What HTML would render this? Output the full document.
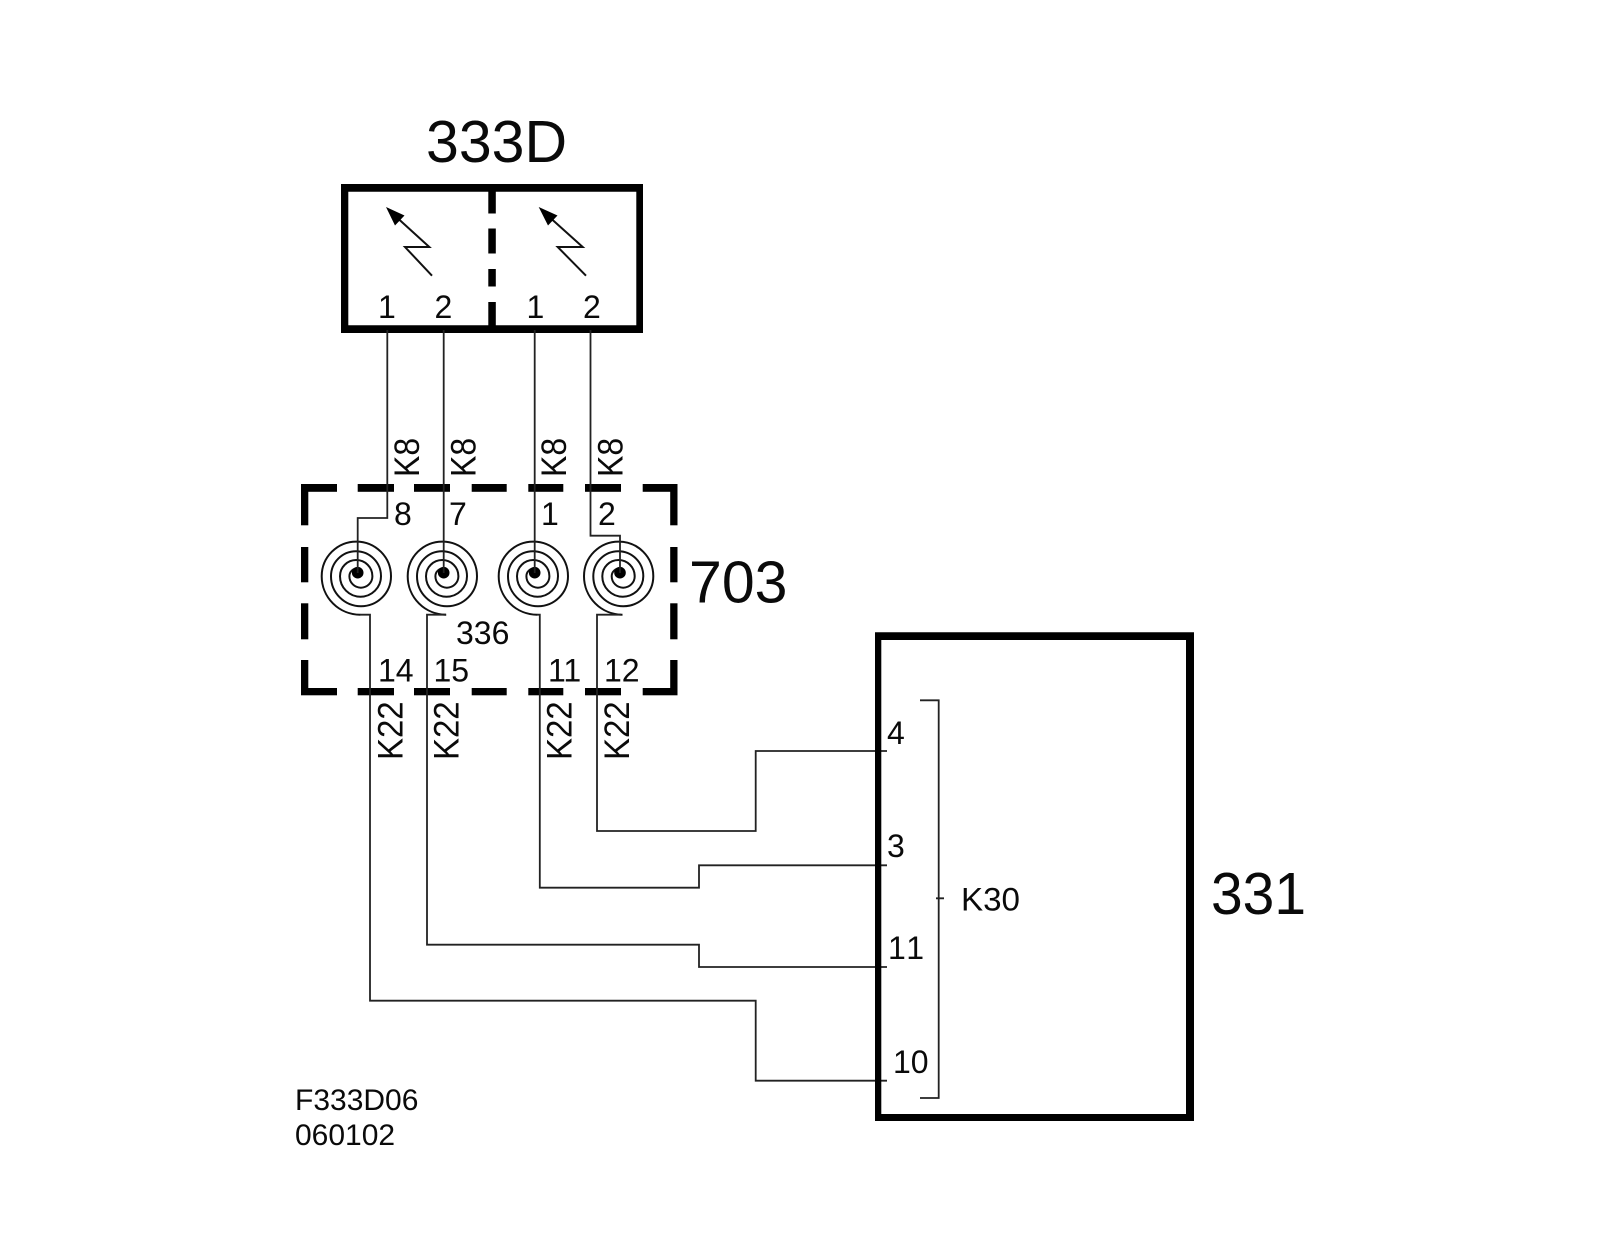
<!DOCTYPE html>
<html>
<head>
<meta charset="utf-8">
<style>
html,body{margin:0;padding:0;background:#fff;width:1600px;height:1235px;overflow:hidden}
svg{display:block}
text{font-family:"Liberation Sans",Arial,sans-serif;fill:#0a0a0a}
.s{font-size:32px}
.l{font-size:59px}
.f{font-size:30px}
.w{fill:none;stroke:#222;stroke-width:1.8}
.t{fill:none;stroke:#111;stroke-width:2}
</style>
</head>
<body>
<svg width="1600" height="1235" viewBox="0 0 1600 1235" xmlns="http://www.w3.org/2000/svg">
<rect width="1600" height="1235" fill="#fff"/>
<defs>
<g id="sp">
<path fill="none" stroke="#111" stroke-width="2" d="M0,-4.5 A8.3 8 0 0 0 -8.3,3.5 A11.5 11.5 0 0 0 14.7,3.5 A16.2 16.2 0 0 0 -17.7,3.5 A20.5 20.5 0 0 0 23.3,3.5 A25 25 0 0 0 -26.7,3.5 A30 30 0 0 0 33.3,3.5 A34.65 34.65 0 0 0 -36,3.5 A38.5 38.5 0 0 0 2.5,42"/>
<circle cx="0" cy="0" r="5.8" fill="#000"/>
</g>
</defs>

<!-- 333D box -->
<path fill="#000" fill-rule="evenodd" d="M341,184 H643 V333 H341 Z M348.3,191.7 V325.3 H636.3 V191.7 Z"/>
<g fill="#000">
<rect x="488.3" y="188" width="7.5" height="25.5"/>
<rect x="488.3" y="228.5" width="7.5" height="25"/>
<rect x="488.3" y="269" width="7.5" height="17.5"/>
<rect x="488.3" y="302" width="7.5" height="28"/>
</g>
<path class="t" d="M398,218.5 L429.3,247 L405,247 L432,275.7"/>
<path d="M386,207 L404.5,215.5 L395,225.5 Z" fill="#000"/>
<path class="t" d="M551,218.5 L582.7,247 L557.7,247 L586,275.7"/>
<path d="M538.7,207 L557.5,215.5 L548,225.5 Z" fill="#000"/>

<!-- 703 dashed box -->
<g fill="#000">
<rect x="301" y="484" width="36" height="7.8"/><rect x="357.7" y="484" width="36.3" height="7.8"/>
<rect x="414" y="484" width="36" height="7.8"/><rect x="471.7" y="484" width="35" height="7.8"/>
<rect x="528.3" y="484" width="35" height="7.8"/><rect x="585" y="484" width="36" height="7.8"/>
<rect x="642.7" y="484" width="34.8" height="7.8"/>
<rect x="301" y="688" width="36" height="7.3"/><rect x="357.7" y="688" width="36.3" height="7.3"/>
<rect x="414" y="688" width="36" height="7.3"/><rect x="471.7" y="688" width="35" height="7.3"/>
<rect x="528.3" y="688" width="35" height="7.3"/><rect x="585" y="688" width="36" height="7.3"/>
<rect x="642.7" y="688" width="34.8" height="7.3"/>
<rect x="301" y="484" width="7.3" height="41.3"/><rect x="301" y="547" width="7.3" height="35.3"/>
<rect x="301" y="603.3" width="7.3" height="36"/><rect x="301" y="660" width="7.3" height="35"/>
<rect x="670.2" y="484" width="7.3" height="41.3"/><rect x="670.2" y="547" width="7.3" height="35.3"/>
<rect x="670.2" y="603.3" width="7.3" height="36"/><rect x="670.2" y="660" width="7.3" height="35"/>
</g>

<!-- spirals -->
<use href="#sp" x="357.7" y="572.7"/>
<use href="#sp" x="443.7" y="572.7"/>
<use href="#sp" x="534.7" y="572.7"/>
<use href="#sp" x="620" y="572.7"/>

<!-- upper wires -->
<path class="w" d="M387.3,330 V518 H357.7 V573"/>
<path class="w" d="M443.7,330 V573"/>
<path class="w" d="M534.7,330 V573"/>
<path class="w" d="M590.5,330 V535.7 H620 V573"/>

<!-- lower wires -->
<path class="w" d="M360,614.7 H370 V1000.7 H755.7 V1080.7 H887"/>
<path class="w" d="M446,614.7 H427 V944.7 H699 V967 H887"/>
<path class="w" d="M537,614.7 H539.8 V887.7 H699 V865.3 H887"/>
<path class="w" d="M621,614.7 H597 V831 H755.7 V751 H887"/>

<!-- 331 box -->
<path fill="#000" fill-rule="evenodd" d="M875,632.3 H1194 V1121 H875 Z M881.3,640 V1114 H1186 V640 Z"/>
<path class="w" d="M920,700.3 H938.7 V1098 H920 M936,898.3 H944"/>

<!-- large labels -->
<text class="l" x="426" y="162">333D</text>
<text class="l" x="689" y="602.7">703</text>
<text class="l" x="1211" y="914" textLength="95" lengthAdjust="spacingAndGlyphs">331</text>

<!-- box pins -->
<text class="s" x="378" y="318">1</text>
<text class="s" x="434.5" y="318">2</text>
<text class="s" x="526.5" y="318">1</text>
<text class="s" x="583" y="318">2</text>

<!-- connector pins -->
<text class="s" x="394" y="525">8</text>
<text class="s" x="449" y="525">7</text>
<text class="s" x="541" y="525">1</text>
<text class="s" x="598" y="525">2</text>
<text class="s" x="456" y="644">336</text>
<text class="s" x="378" y="681.7">14</text>
<text class="s" x="433.5" y="681.7">15</text>
<text class="s" x="548" y="681.7">11</text>
<text class="s" x="604" y="681.7">12</text>

<!-- rotated wire labels -->
<text class="s" transform="translate(419,477) rotate(-90) scale(1,1.1)">K8</text>
<text class="s" transform="translate(475.7,477) rotate(-90) scale(1,1.1)">K8</text>
<text class="s" transform="translate(566,477) rotate(-90) scale(1,1.1)">K8</text>
<text class="s" transform="translate(622.5,477) rotate(-90) scale(1,1.1)">K8</text>
<text class="s" transform="translate(402.7,760) rotate(-90) scale(1.03,1.1)">K22</text>
<text class="s" transform="translate(458.5,760) rotate(-90) scale(1.03,1.1)">K22</text>
<text class="s" transform="translate(571.3,760) rotate(-90) scale(1.03,1.1)">K22</text>
<text class="s" transform="translate(629,760) rotate(-90) scale(1.03,1.1)">K22</text>

<!-- module pins -->
<text class="s" x="887" y="744">4</text>
<text class="s" x="887" y="857">3</text>
<text class="s" x="888" y="959" textLength="36" lengthAdjust="spacing">11</text>
<text class="s" x="893" y="1073">10</text>
<text class="s" x="961" y="910.7" textLength="59" lengthAdjust="spacingAndGlyphs">K30</text>

<!-- footer -->
<text class="f" x="295" y="1110">F333D06</text>
<text class="f" x="295" y="1145">060102</text>
</svg>
</body>
</html>
